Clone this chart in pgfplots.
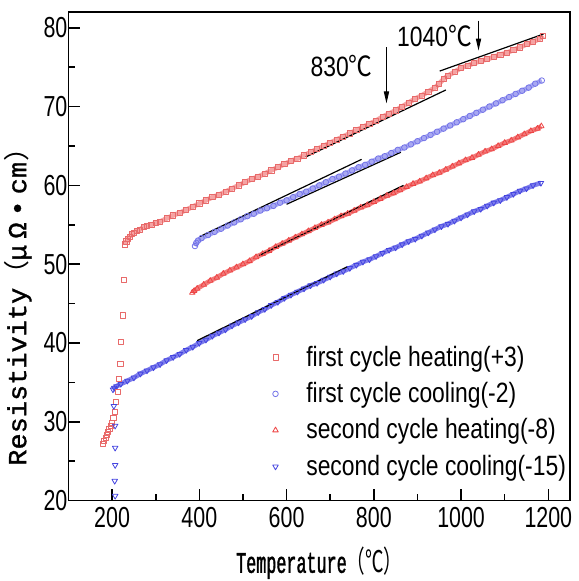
\documentclass[border=0pt]{standalone}
\usepackage{fontspec}
\setmainfont[FakeStretch=0.82]{Liberation Sans}
\newfontfamily\tickfont[FakeStretch=0.74]{Liberation Sans}
\newfontfamily\labfont[FakeStretch=0.56,FakeBold=1.2]{Liberation Mono}
\newfontfamily\labcjk[FakeStretch=0.62]{Noto Sans CJK SC}
\newfontfamily\ylabfont[FakeStretch=1.04,FakeBold=1.2]{Liberation Mono}
\newfontfamily\ylabcjk[FakeStretch=1.04]{Noto Sans CJK SC}
\newfontfamily\anncjk[FakeStretch=0.85]{Noto Sans CJK SC}
\usepackage{pgfplots}
\pgfplotsset{compat=1.18}
\usetikzlibrary{arrows.meta}
\definecolor{hOneM}{HTML}{E86A6A}
\definecolor{hOneL}{HTML}{F5A3A3}
\definecolor{cOneM}{HTML}{7272E8}
\definecolor{cOneL}{HTML}{A8A8F2}
\definecolor{hTwoM}{HTML}{EE4444}
\definecolor{hTwoL}{HTML}{F27A7A}
\definecolor{cTwoM}{HTML}{4444E0}
\definecolor{cTwoL}{HTML}{7E7EEC}

\begin{document}
\begin{tikzpicture}
\begin{axis}[
  scale only axis,
  width=251.5pt, height=245pt,
  xmin=100, xmax=1250, ymin=20, ymax=82,
  xtick={200,400,...,1200}, ytick={20,30,...,80},
  minor x tick num=1, minor y tick num=1,
  tick align=inside, tick pos=left,
  major tick length=6pt, minor tick length=3.5pt,
  axis line style={line width=0.8pt},
  every tick/.style={black, line width=0.8pt},
  /pgf/number format/assume math mode=true,
  /pgf/number format/1000 sep={},
  tick label style={font=\tickfont\fontsize{14.5}{16}\selectfont},
  yticklabel style={xshift=3pt},
  xlabel={Temperature{\labcjk （℃）}},
  ylabel={Resistivity{\ylabcjk （}μ\hspace{3pt}Ω\hspace{3pt}•\hspace{3pt}cm{\ylabcjk ）}},
  xlabel style={font=\labfont\fontsize{15}{17}\selectfont, inner sep=1pt, yshift=-5pt},
  ylabel style={font=\ylabfont\fontsize{13}{15}\selectfont, at={(ticklabel cs:0.41)}, inner sep=2pt},
  ylabel shift=0.5pt,
  legend style={at={(axis cs:535,40.7)}, anchor=north west, draw=none, fill=none,
    font=\fontsize{14}{16}\selectfont, row sep=2.6pt},
  legend cell align=left,
  legend image code/.code={\draw[#1] plot[only marks] coordinates {(0.15cm,0cm)}; \path (0cm,0cm) (0.58cm,0cm);},
  every axis plot/.append style={line join=round},
]
% first cycle heating (+3)
\addplot[hOneL, line width=2.4pt, mark=square, mark size=1.3pt, mark options={hOneM, solid, line width=0.4pt}] coordinates {
(230,52.5)(233,52.9)(236,53.2)(240,53.5)(245,53.8)(250,54.0)(256,54.2)(264,54.4)(272,54.7)(280,54.9)(290,55.0)(300,55.2)
(310,55.4)(325,55.8)(340,56.2)(355,56.5)(370,56.9)(385,57.3)(400,57.7)(415,58.1)(430,58.5)(445,58.8)(460,59.2)(475,59.6)
(490,60.0)(505,60.4)(520,60.8)(535,61.1)(550,61.5)(565,61.9)(580,62.3)(595,62.7)(610,63.1)(625,63.4)(640,63.8)(655,64.2)
(670,64.6)(685,65.0)(700,65.4)(715,65.8)(730,66.2)(745,66.6)(760,67.0)(775,67.4)(790,67.8)(805,68.2)(820,68.7)(835,69.1)
(850,69.5)(865,70.0)(880,70.5)(895,71.0)(910,71.4)(925,71.9)(940,72.4)(950,72.9)(960,73.5)(970,73.9)(985,74.4)(1000,74.9)
(1015,75.2)(1030,75.5)(1045,75.8)(1060,76.0)(1075,76.3)(1090,76.6)(1105,76.8)(1120,77.2)(1135,77.5)(1150,77.9)(1165,78.2)
(1180,78.6)(1188,79.0)};
\addlegendentry{first cycle heating(+3)}
% first cycle cooling (-2)
\addplot[cOneL, line width=2.4pt, mark=o, mark size=1.4pt, mark options={cOneM, solid, line width=0.4pt}] coordinates {
(390,52.3)(393,52.7)(397,53.0)(405,53.3)(420,53.7)(435,54.1)(450,54.5)(465,54.9)(480,55.3)(495,55.7)(510,56.1)(525,56.4)
(540,56.8)(555,57.1)(570,57.4)(585,57.8)(600,58.1)(615,58.5)(630,58.9)(645,59.2)(660,59.6)(675,60.0)(690,60.4)(705,60.8)
(720,61.1)(735,61.5)(750,61.9)(765,62.3)(780,62.6)(795,63.0)(810,63.4)(825,63.7)(840,64.1)(855,64.5)(870,64.8)(885,65.2)
(900,65.6)(915,66.0)(930,66.4)(945,66.8)(960,67.2)(975,67.6)(990,68.0)(1005,68.4)(1020,68.8)(1035,69.2)(1050,69.6)
(1065,70.0)(1080,70.4)(1095,70.8)(1110,71.2)(1125,71.6)(1140,72.0)(1155,72.4)(1170,72.9)(1185,73.3)};
\addlegendentry{first cycle cooling(-2)}
% second cycle heating (-8)
\addplot[hTwoL, line width=2.4pt, mark=triangle, mark size=1.6pt, mark options={hTwoM, solid, line width=0.4pt}] coordinates {
(384,46.4)(388,46.6)(395,46.9)(410,47.4)(425,47.9)(440,48.3)(455,48.8)(470,49.2)(485,49.6)(500,50.0)(515,50.4)(530,50.9)
(545,51.3)(560,51.7)(575,52.2)(590,52.6)(605,53.0)(620,53.4)(635,53.8)(650,54.2)(665,54.6)(680,55.0)(695,55.3)(710,55.7)
(725,56.1)(740,56.4)(755,56.8)(770,57.2)(785,57.5)(800,57.9)(815,58.3)(830,58.7)(845,59.0)(860,59.4)(875,59.8)(890,60.2)
(905,60.5)(920,60.9)(935,61.3)(950,61.6)(965,62.0)(980,62.4)(995,62.8)(1010,63.2)(1025,63.5)(1040,63.9)(1055,64.3)
(1070,64.6)(1085,65.0)(1100,65.4)(1115,65.7)(1130,66.1)(1145,66.5)(1160,66.9)(1175,67.2)(1184,67.5)};
\addlegendentry{second cycle heating(-8)}
% second cycle cooling (-15)
\addplot[cTwoL, line width=2.4pt, mark=triangle, mark size=1.6pt, mark options={cTwoM, solid, line width=0.4pt, rotate=180}] coordinates {
(202,34.1)(205,34.3)(210,34.5)(220,34.8)(235,35.2)(250,35.6)(265,36.1)(280,36.5)(295,36.9)(310,37.3)(325,37.8)(340,38.2)
(355,38.6)(370,39.1)(385,39.5)(400,40.0)(415,40.4)(430,40.9)(445,41.3)(460,41.7)(475,42.2)(490,42.6)(505,43.0)(520,43.4)
(535,43.9)(550,44.3)(565,44.8)(580,45.2)(595,45.7)(610,46.1)(625,46.5)(640,46.9)(655,47.3)(670,47.6)(685,48.0)(700,48.4)
(715,48.8)(730,49.1)(745,49.5)(760,49.9)(775,50.3)(790,50.6)(805,51.0)(820,51.4)(835,51.8)(850,52.1)(865,52.5)(880,52.9)
(895,53.2)(910,53.6)(925,54.0)(940,54.4)(955,54.8)(970,55.1)(985,55.5)(1000,55.9)(1015,56.3)(1030,56.7)(1045,57.0)
(1060,57.4)(1075,57.8)(1090,58.1)(1105,58.5)(1120,58.9)(1135,59.3)(1150,59.6)(1165,60.0)(1183,60.3)};
\addlegendentry{second cycle cooling(-15)}
% sparse low-temperature points
\addplot[forget plot, only marks, mark=square, mark size=1.3pt, mark options={hOneM, line width=0.4pt}] coordinates {
(179,27.2)(182,27.6)(185,28.0)(188,28.3)(191,28.7)(194,29.1)(197,29.5)(200,29.9)(203,30.5)(206,31.3)(209,32.5)(213,33.8)
(216,35.4)(219,37.3)(221,40.1)(225,43.5)(227,48.0)(230,52.5)};
\addplot[forget plot, only marks, mark=triangle, mark size=1.6pt, mark options={cTwoM, line width=0.4pt, rotate=180}] coordinates {
(207,20.6)(206,22.5)(207,24.5)(207,26.7)(207,29.5)(204,32.0)};
% linear guides
\addplot[forget plot, black, line width=0.6pt] coordinates {(644,63.6)(965,72.1)};
\addplot[forget plot, black, line width=0.6pt] coordinates {(951,74.5)(1189,79.2)};
\addplot[forget plot, black, line width=0.6pt] coordinates {(401,53.5)(772,63.3)};
\addplot[forget plot, black, line width=0.6pt] coordinates {(600,57.6)(862,64.2)};
\addplot[forget plot, black, line width=0.6pt] coordinates {(537,51.1)(868,60.0)};
\addplot[forget plot, black, line width=0.6pt] coordinates {(395,40.3)(740,49.7)};
% annotations
\draw[-{Triangle[length=6pt,width=2.6pt]}, line width=0.5pt] (axis cs:829,77.5) -- (axis cs:829,70.4);
\draw[-{Triangle[length=6pt,width=2.6pt]}, line width=0.5pt] (axis cs:1040,80.9) -- (axis cs:1040,77.1);
\node[font=\fontsize{14}{16}\selectfont, inner sep=0pt] at (axis cs:726,75.2) {830{\anncjk ℃}};
\node[font=\fontsize{14}{16}\selectfont, inner sep=0pt] at (axis cs:939,79.0) {1040{\anncjk ℃}};
\end{axis}
\path (current axis.north east) ++(3pt,6pt);
\end{tikzpicture}
\end{document}
